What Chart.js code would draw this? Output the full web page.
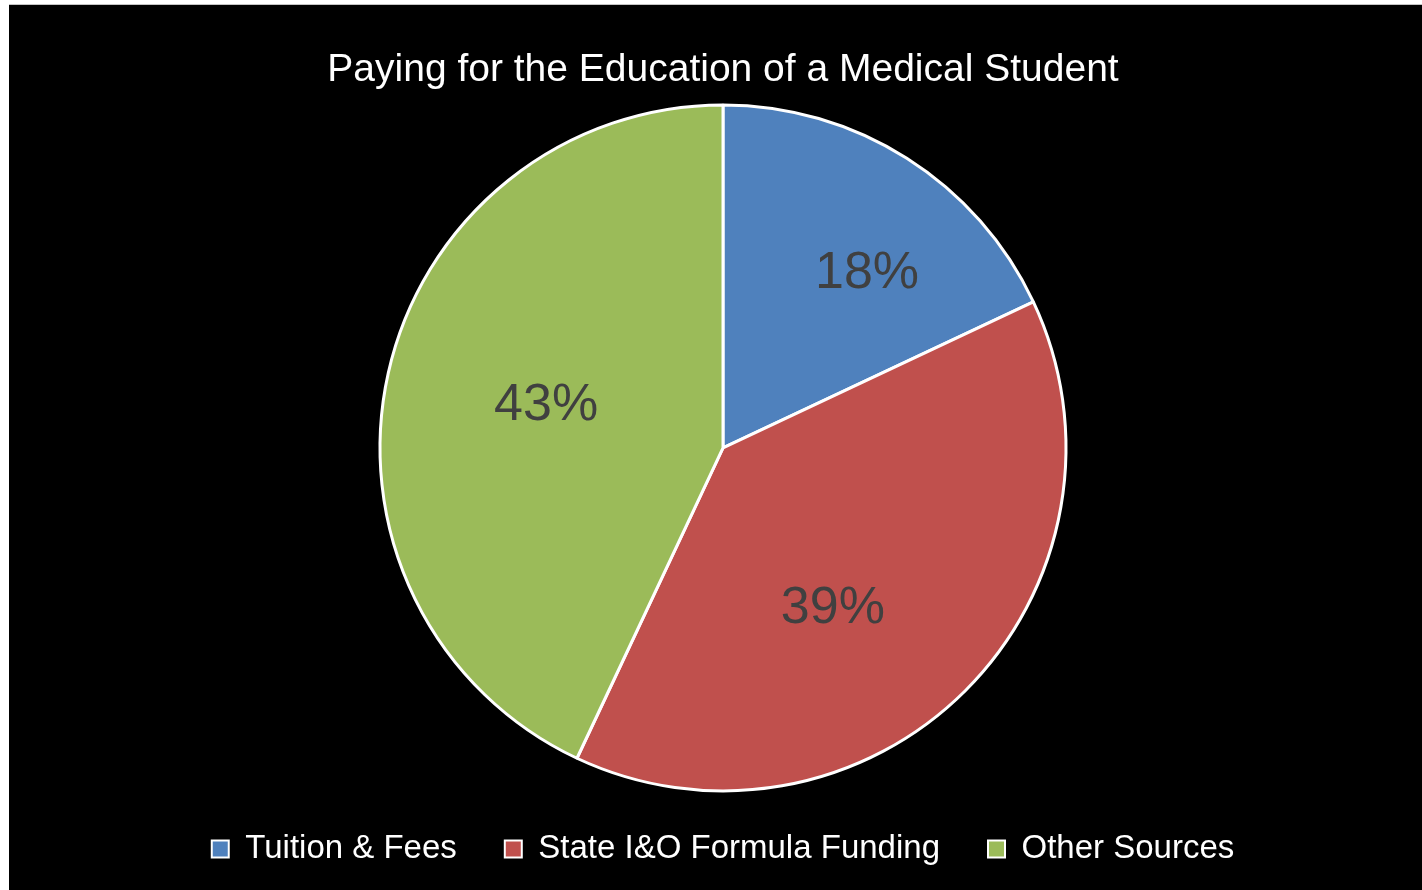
<!DOCTYPE html>
<html>
<head>
<meta charset="utf-8">
<title>Paying for the Education of a Medical Student</title>
<script src="https://cdn.jsdelivr.net/npm/chart.js@4/dist/chart.umd.min.js"></script>
<style>
  html, body { margin: 0; padding: 0; background: #ffffff; overflow: hidden; }
  #frame {
    position: absolute; left: 9px; top: 4px;
    width: 1413px; height: 885px;
    background: #000000;
    border-top: 1px solid #c4c4c4;
  }
  #chart { display: block; }
</style>
</head>
<body>
<div id="frame"><canvas id="chart" width="1413" height="885"></canvas></div>
<script>
// Funding sources and their shares (percent)
const categories = ['Tuition & Fees', 'State I&O Formula Funding', 'Other Sources'];
const shares = [18, 39, 43];
const sliceColors = ['#4F81BD', '#C0504D', '#9BBB59'];
const chartTitle = 'Paying for the Education of a Medical Student';

const FONT = "'Liberation Sans', Arial, Helvetica, sans-serif";

// Percent labels drawn inside each slice
const sliceLabels = {
  id: 'sliceLabels',
  afterDatasetsDraw(chart, args, opts) {
    const meta = chart.getDatasetMeta(0);
    const values = chart.data.datasets[0].data;
    const ctx = chart.ctx;
    ctx.save();
    ctx.font = opts.size + 'px ' + FONT;
    ctx.fillStyle = opts.color;
    ctx.textAlign = 'center';
    ctx.textBaseline = 'middle';
    meta.data.forEach((arc, i) => {
      const p = arc.getProps(['x', 'y', 'startAngle', 'endAngle', 'outerRadius'], true);
      const mid = (p.startAngle + p.endAngle) / 2 + (opts.angleShift[i] || 0) * Math.PI / 180;
      const r = p.outerRadius * opts.radiusFraction[i];
      ctx.fillText(values[i] + '%', p.x + Math.cos(mid) * r, p.y + Math.sin(mid) * r);
    });
    ctx.restore();
  }
};

const baseLabels = Chart.overrides.pie.plugins.legend.labels.generateLabels;

new Chart(document.getElementById('chart'), {
  type: 'pie',
  data: {
    labels: categories,
    datasets: [{
      data: shares,
      backgroundColor: sliceColors,
      borderColor: '#ffffff',
      borderWidth: 3,
      radius: 343,
      clip: false
    }]
  },
  options: {
    responsive: false,
    animation: false,
    layout: { padding: { left: 15, right: 0, top: 0, bottom: 14.5 } },
    plugins: {
      title: {
        display: true,
        text: chartTitle,
        color: '#ffffff',
        font: { family: FONT, size: 39, weight: 'normal' },
        padding: { top: 42, bottom: 17.5 }
      },
      legend: {
        position: 'bottom',
        labels: {
          color: '#ffffff',
          font: { family: FONT, size: 33 },
          boxWidth: 17,
          boxHeight: 17,
          padding: 48,
          generateLabels(chart) {
            return baseLabels(chart).map(item => Object.assign(item, { lineWidth: 2 }));
          }
        }
      },
      tooltip: { enabled: false },
      sliceLabels: {
        size: 52,
        color: '#404040',
        angleShift: [7.1, 10.6, 0.8],
        radiusFraction: [0.66, 0.567, 0.53]
      }
    }
  },
  plugins: [sliceLabels]
});
</script>
</body>
</html>
